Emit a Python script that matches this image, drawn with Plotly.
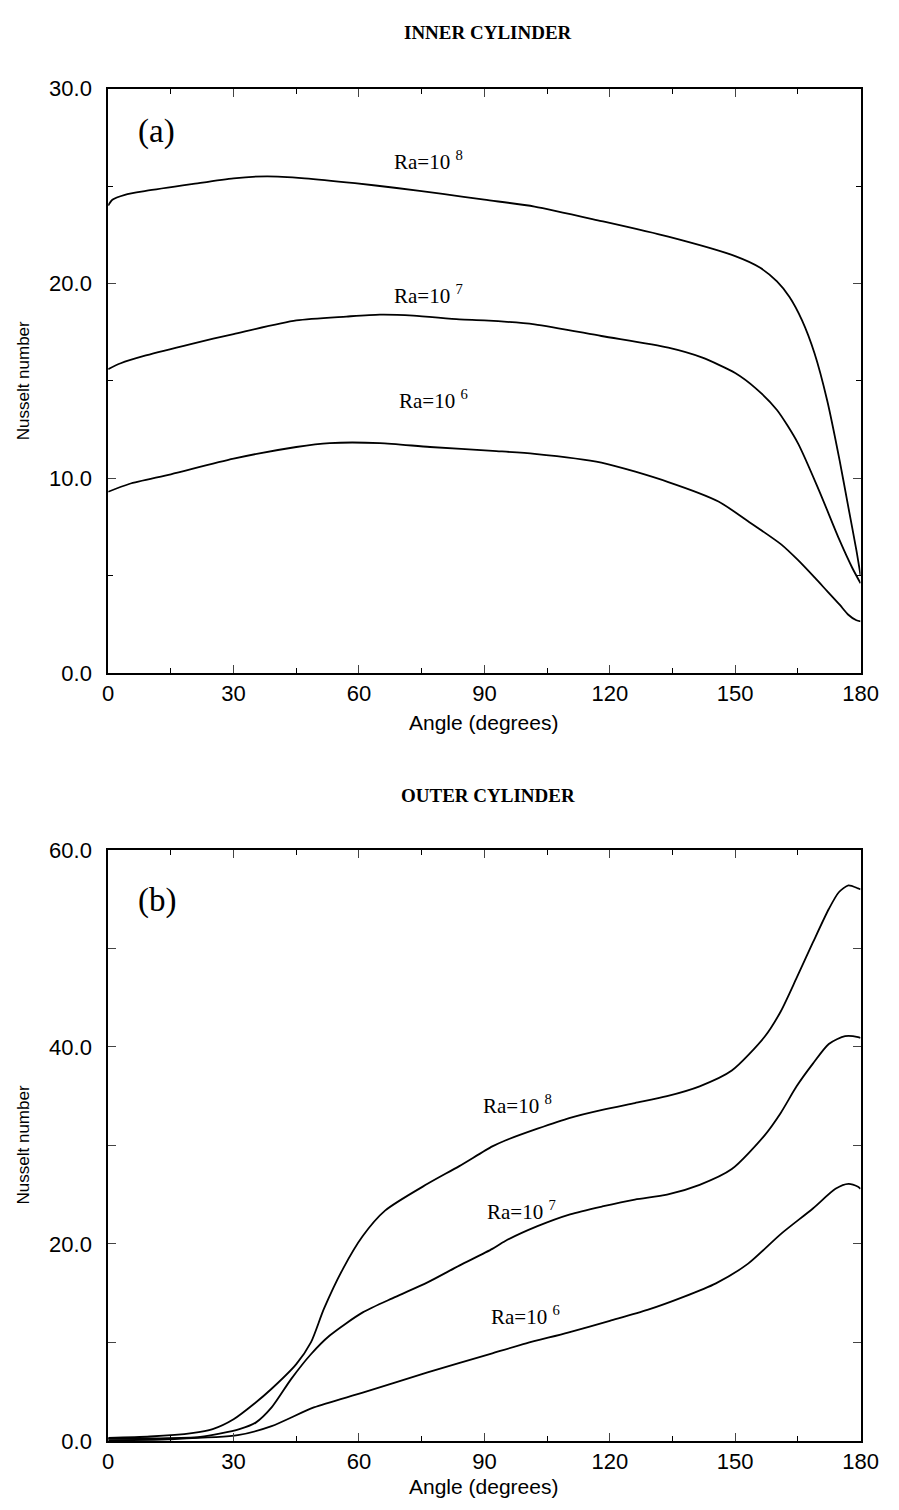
import plotly.graph_objects as go

# ---------------- data: inner cylinder (a) ----------------
inner_ra8_angle = [0, 1, 4, 9, 20, 30, 38, 47, 59, 69, 80, 90, 102, 118, 134, 150, 156, 160, 163, 166, 169, 172, 175, 177, 179, 180]
inner_ra8_nu = [24.0, 24.3, 24.55, 24.75, 25.1, 25.4, 25.5, 25.4, 25.15, 24.9, 24.6, 24.3, 23.95, 23.2, 22.4, 21.4, 20.8, 20.1, 19.3, 18.1, 16.4, 14.0, 10.9, 8.6, 6.3, 5.0]

inner_ra7_angle = [0, 3, 9, 20, 30, 45, 57, 65, 73, 84, 90, 102, 118, 134, 142, 150, 155, 160, 165, 170, 175, 178, 180]
inner_ra7_nu = [15.6, 15.9, 16.3, 16.9, 17.4, 18.1, 18.3, 18.4, 18.35, 18.15, 18.1, 17.9, 17.3, 16.7, 16.2, 15.4, 14.6, 13.5, 11.8, 9.4, 6.8, 5.4, 4.6]

inner_ra6_angle = [0, 5, 15, 30, 45, 53, 65, 77, 92, 102, 118, 134, 146, 153, 161, 165, 169, 172, 175, 177, 179, 180]
inner_ra6_nu = [9.3, 9.7, 10.2, 11.0, 11.6, 11.8, 11.8, 11.6, 11.4, 11.25, 10.8, 9.8, 8.8, 7.8, 6.6, 5.8, 4.9, 4.2, 3.5, 3.0, 2.7, 2.65]

# ---------------- data: outer cylinder (b) ----------------
outer_ra8_angle = [0, 10, 20, 25, 30, 35, 39.1, 45, 48.5, 51.6, 56.2, 60.9, 66.3, 76.4, 84, 91.9, 95, 102.7, 110.5, 118.2, 126, 133.7, 141.5, 149.2, 157, 160.9, 164.7, 168.6, 172.4, 174.8, 177.1, 179.4, 180]
outer_ra8_nu = [0.3, 0.45, 0.8, 1.2, 2.2, 3.8, 5.3, 7.8, 10.0, 13.4, 17.5, 20.8, 23.4, 26.1, 27.9, 29.9, 30.5, 31.7, 32.8, 33.6, 34.3, 35.0, 36.0, 37.6, 41.0, 43.6, 47.0, 50.6, 54.0, 55.7, 56.4, 56.1, 56.0]

outer_ra7_angle = [0, 10, 22, 31.4, 35.3, 39.1, 43.8, 48.5, 53, 60.9, 68.6, 76.4, 84, 91.9, 95, 102.7, 110.5, 118.2, 126, 133.7, 141.5, 149.2, 157, 160.9, 164.7, 168.6, 172.4, 176.3, 179.4, 180]
outer_ra7_nu = [0.2, 0.25, 0.4, 1.2, 1.86, 3.4, 6.3, 8.8, 10.7, 13.05, 14.6, 16.1, 17.8, 19.5, 20.3, 21.8, 23.0, 23.8, 24.5, 25.0, 26.0, 27.6, 31.0, 33.3, 36.0, 38.3, 40.3, 41.1, 41.0, 40.9]

outer_ra6_angle = [0, 14.3, 31, 39.1, 49.2, 60.9, 76.4, 91.9, 100, 110, 120, 129, 137.5, 145.4, 153.1, 160.9, 168.6, 174, 177.1, 179.4, 180]
outer_ra6_nu = [0.05, 0.17, 0.58, 1.5, 3.4, 4.9, 6.95, 8.9, 9.9, 11.0, 12.2, 13.3, 14.6, 16.0, 18.0, 21.0, 23.6, 25.6, 26.1, 25.8, 25.6]

# ---------------- labels ----------------
panel_titles = ["INNER CYLINDER", "OUTER CYLINDER"]
panel_tags = ["(a)", "(b)"]
x_ticks = [0, 30, 60, 90, 120, 150, 180]
inner_y_ticks = [0, 10, 20, 30]
inner_y_text = ["0.0", "10.0", "20.0", "30.0"]
outer_y_ticks = [0, 10, 20, 30, 40, 50, 60]
outer_y_text = ["0.0", "", "20.0", "", "40.0", "", "60.0"]
ra_labels = ["8", "7", "6"]
inner_label_pos = [(76.7, 26.3), (76.7, 19.45), (77.9, 14.05)]
outer_label_pos = [(97.9, 34.2), (99.0, 23.4), (99.8, 12.7)]

W, H = 899, 1510
fig = go.Figure()

line = dict(color="black", width=1.8)
for xs, ys in [(inner_ra8_angle, inner_ra8_nu), (inner_ra7_angle, inner_ra7_nu), (inner_ra6_angle, inner_ra6_nu)]:
    fig.add_trace(go.Scatter(x=xs, y=ys, mode="lines", line=dict(line, shape="spline", smoothing=0.7),
                             xaxis="x", yaxis="y", showlegend=False, hoverinfo="skip"))
for xs, ys in [(outer_ra8_angle, outer_ra8_nu), (outer_ra7_angle, outer_ra7_nu), (outer_ra6_angle, outer_ra6_nu)]:
    fig.add_trace(go.Scatter(x=xs, y=ys, mode="lines", line=dict(line, shape="spline", smoothing=0.7),
                             xaxis="x2", yaxis="y2", showlegend=False, hoverinfo="skip"))

x_left, x_right = 105, 878
top_t, top_b = 78, 672
bot_t, bot_b = 852, 1453
xdom = [x_left / W, x_right / W]

tickfont = dict(family="Liberation Sans, Arial", size=22, color="black")
common_x = dict(range=[0, 180], tickvals=x_ticks, ticks="inside", ticklen=8, tickwidth=1.3,
                showline=True, linecolor="black", linewidth=1.8, mirror="ticks",
                showgrid=False, zeroline=False, tickfont=tickfont, ticklabelstandoff=0,
                minor=dict(dtick=15, ticks="inside", ticklen=5, tickwidth=1.1, tickcolor="black"))
common_y = dict(ticks="inside", ticklen=8, tickwidth=1.3, showline=True, linecolor="black",
                linewidth=1.8, mirror="ticks", showgrid=False, zeroline=False, tickfont=tickfont,
                ticklabelstandoff=10)

fig.update_layout(
    width=W, height=H, margin=dict(l=0, r=0, t=0, b=0),
    paper_bgcolor="white", plot_bgcolor="white",
    xaxis=dict(common_x, domain=xdom, anchor="y"),
    yaxis=dict(common_y, domain=[1 - top_b / H, 1 - top_t / H], anchor="x", range=[0, 30],
               tickvals=inner_y_ticks, ticktext=inner_y_text,
               minor=dict(dtick=5, ticks="inside", ticklen=5, tickwidth=1.1, tickcolor="black")),
    xaxis2=dict(common_x, domain=xdom, anchor="y2"),
    yaxis2=dict(common_y, domain=[1 - bot_b / H, 1 - bot_t / H], anchor="x2", range=[0, 60],
                tickvals=outer_y_ticks, ticktext=outer_y_text),
)

ann = []
serif = "Liberation Serif, Times New Roman"
sans = "Liberation Sans, Arial"
# panel titles
ann.append(dict(x=495 / W, y=1 - 21 / H, xref="paper", yref="paper", text="<b>" + panel_titles[0] + "</b>",
                showarrow=False, font=dict(family=serif, size=19, color="black"),
                xanchor="center", yanchor="middle"))
ann.append(dict(x=495 / W, y=1 - 797 / H, xref="paper", yref="paper", text="<b>" + panel_titles[1] + "</b>",
                showarrow=False, font=dict(family=serif, size=19, color="black"),
                xanchor="center", yanchor="middle"))
# axis titles
for yc in [722, 1499]:
    ann.append(dict(x=491 / W, y=1 - yc / H, xref="paper", yref="paper", text="Angle (degrees)", showarrow=False,
                    font=dict(family=sans, size=21, color="black"), xanchor="center", yanchor="middle"))
for yc in [375, 1152]:
    ann.append(dict(x=18 / W, y=1 - yc / H, xref="paper", yref="paper", text="Nusselt number", showarrow=False,
                    textangle=-90, font=dict(family=sans, size=17, color="black"),
                    xanchor="center", yanchor="middle"))
# panel tags
ann.append(dict(x=11.6, y=27.8, xref="x", yref="y", text=panel_tags[0], showarrow=False,
                font=dict(family=serif, size=33, color="black")))
ann.append(dict(x=11.6, y=54.9, xref="x2", yref="y2", text=panel_tags[1], showarrow=False,
                font=dict(family=serif, size=33, color="black")))
# Ra labels
for lab, (ax, ay) in zip(ra_labels, inner_label_pos):
    ann.append(dict(x=ax, y=ay, xref="x", yref="y", text="Ra=10 <sup>" + lab + "</sup>", showarrow=False,
                    font=dict(family=serif, size=21, color="black")))
for lab, (ax, ay) in zip(ra_labels, outer_label_pos):
    ann.append(dict(x=ax, y=ay, xref="x2", yref="y2", text="Ra=10 <sup>" + lab + "</sup>", showarrow=False,
                    font=dict(family=serif, size=21, color="black")))
fig.update_layout(annotations=ann)

fig.write_html("out.html")
